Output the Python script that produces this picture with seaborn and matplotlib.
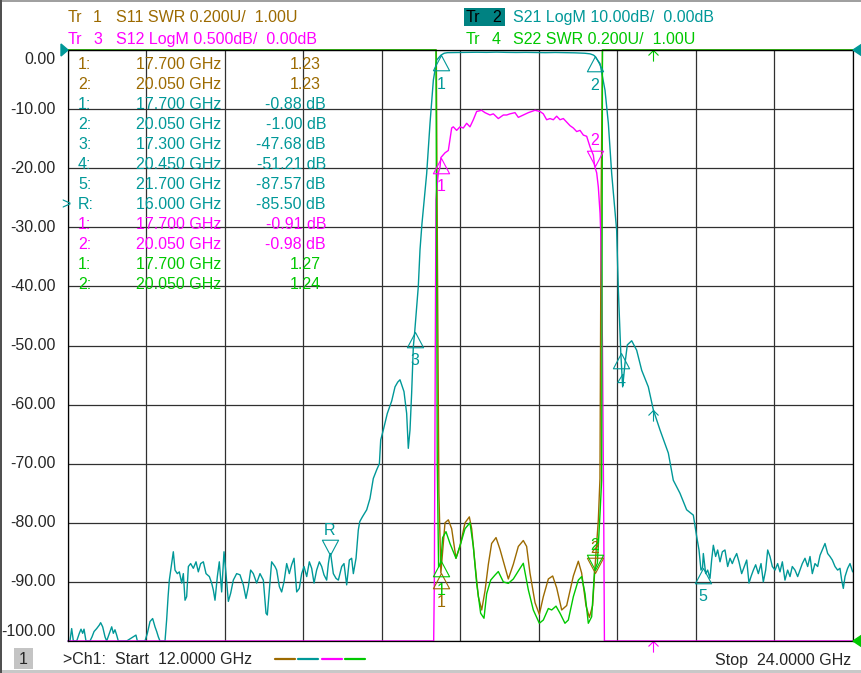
import numpy as np
import pandas as pd
import matplotlib
matplotlib.use("Agg")
import matplotlib.pyplot as plt
from matplotlib.path import Path
from matplotlib.patches import Rectangle, Polygon
import seaborn as sns

# ---- traces: (GHz, value) ----
s21_pts = [
    (12.00, -100), (12.03, -100), (12.056, -97.9), (12.082, -100), (12.133, -100), (12.173, -98.7),
    (12.199, -98.0), (12.224, -98.7), (12.245, -98.0), (12.275, -100), (12.336, -100), (12.367, -99.3),
    (12.398, -98.4), (12.438, -97.9), (12.479, -97.3), (12.499, -96.9), (12.530, -97.6), (12.566, -99.3),
    (12.591, -100), (12.642, -98.4), (12.668, -97.6), (12.693, -98.7), (12.718, -98.1), (12.744, -99.0),
    (12.769, -100), (12.897, -100), (13.039, -99.0), (13.060, -100), (13.177, -100), (13.213, -98.7),
    (13.254, -96.7), (13.294, -96.2), (13.330, -97.6), (13.356, -98.4), (13.381, -99.3), (13.406, -100),
    (13.483, -100), (13.508, -96.4), (13.530, -92.5), (13.549, -89.7), (13.585, -86.9), (13.610, -84.9),
    (13.636, -88.0), (13.671, -88.6), (13.702, -88.3), (13.738, -90.2), (13.763, -88.6), (13.789, -93.1),
    (13.814, -92.5), (13.840, -87.4), (13.875, -86.9), (13.916, -87.7), (13.957, -86.6), (13.992, -88.3),
    (14.028, -86.9), (14.069, -86.6), (14.110, -88.6), (14.161, -89.1), (14.196, -90.2), (14.222, -91.4),
    (14.247, -93.1), (14.283, -89.1), (14.313, -86.6), (14.349, -91.7), (14.385, -84.9), (14.415, -88.6),
    (14.451, -93.3), (14.487, -91.9), (14.527, -89.7), (14.578, -88.6), (14.629, -88.8), (14.680, -90.5),
    (14.721, -92.8), (14.757, -90.8), (14.792, -88.0), (14.833, -88.6), (14.884, -90.2), (14.935, -88.6),
    (14.986, -89.7), (15.027, -95.3), (15.047, -95.6), (15.078, -91.4), (15.113, -86.6), (15.164, -87.4),
    (15.190, -88.0), (15.231, -90.8), (15.266, -91.7), (15.302, -90.0), (15.343, -86.9), (15.383, -88.6),
    (15.419, -87.1), (15.455, -86.0), (15.496, -91.7), (15.536, -91.1), (15.572, -88.6), (15.608, -87.4),
    (15.649, -89.1), (15.689, -86.6), (15.725, -87.7), (15.761, -90.2), (15.801, -88.0), (15.842, -86.6),
    (15.878, -87.4), (15.913, -88.8), (15.954, -89.7), (15.980, -86.9), (16.000, -85.5), (16.015, -85.2),
    (16.056, -88.6), (16.097, -89.4), (16.133, -89.7), (16.184, -87.4), (16.219, -86.9), (16.260, -90.5),
    (16.301, -86.3), (16.336, -86.0), (16.362, -88.6), (16.403, -86.0), (16.438, -81.2), (16.46, -79.8),
    (16.50, -79.0), (16.566, -77.8), (16.616, -75.9), (16.667, -72.5), (16.72, -71.0), (16.76, -70.0),
    (16.78, -66.0), (16.82, -64.3), (16.881, -61.5), (16.948, -59.4), (16.999, -57.0), (17.04, -56.2),
    (17.075, -55.8), (17.136, -57.8), (17.177, -61.5), (17.202, -67.4), (17.228, -64.3), (17.253, -58.1),
    (17.279, -50.2), (17.30, -47.68), (17.33, -43.4), (17.355, -40.0), (17.381, -33.8), (17.41, -29.5),
    (17.457, -24.0), (17.483, -20.9), (17.534, -12.4), (17.585, -5.1), (17.636, -1.7), (17.70, -0.88),
    (17.75, -0.55), (17.80, -0.45), (17.95, -0.42), (18.10, -0.40), (18.25, -0.38), (18.40, -0.40),
    (18.55, -0.36), (18.70, -0.40), (18.85, -0.42), (19.00, -0.40), (19.15, -0.42), (19.30, -0.45),
    (19.45, -0.42), (19.60, -0.45), (19.75, -0.48), (19.90, -0.55), (19.98, -0.65), (20.031, -0.85),
    (20.05, -1.00), (20.133, -2.3), (20.209, -6.8), (20.26, -12.4), (20.311, -20.9), (20.387, -30.5),
    (20.413, -40.6), (20.45, -51.21), (20.479, -57.0), (20.515, -53.0), (20.55, -49.9), (20.617, -49.2),
    (20.693, -50.8), (20.77, -54.2), (20.871, -57.0), (20.948, -60.9), (21.05, -64.3), (21.177, -68.2),
    (21.253, -72.8), (21.355, -75.0), (21.457, -77.8), (21.559, -78.7), (21.61, -82.3), (21.646, -84.6),
    (21.676, -88.0), (21.70, -87.57), (21.712, -85.2), (21.748, -88.6), (21.778, -88.0), (21.814, -89.4),
    (21.839, -86.3), (21.865, -83.8), (21.90, -85.7), (21.931, -84.6), (21.967, -86.6), (22.003, -84.9),
    (22.043, -84.6), (22.084, -87.4), (22.12, -86.0), (22.155, -86.9), (22.186, -86.0), (22.222, -85.2),
    (22.257, -86.6), (22.298, -88.6), (22.339, -87.4), (22.375, -86.3), (22.41, -90.2), (22.441, -89.1),
    (22.477, -88.0), (22.512, -87.1), (22.553, -88.6), (22.594, -86.9), (22.629, -90.0), (22.665, -88.0),
    (22.696, -84.6), (22.731, -85.7), (22.767, -87.4), (22.808, -88.0), (22.848, -86.9), (22.884, -88.3),
    (22.92, -86.6), (22.96, -89.7), (23.001, -88.0), (23.037, -89.1), (23.072, -87.4), (23.113, -88.0),
    (23.154, -89.1), (23.19, -88.0), (23.225, -86.9), (23.266, -86.0), (23.307, -87.4), (23.343, -85.7),
    (23.378, -88.6), (23.419, -86.9), (23.46, -87.4), (23.496, -85.5), (23.531, -84.6), (23.572, -83.5),
    (23.613, -85.2), (23.648, -85.7), (23.684, -86.3), (23.725, -87.4), (23.765, -88.0), (23.801, -87.7),
    (23.827, -89.7), (23.852, -91.1), (23.878, -89.1), (23.918, -87.7), (23.954, -86.9), (23.995, -88.3),
]

s12_pts = [
    (12.0, -6.0), (17.59, -6.0), (17.60, -4.5), (17.615, -2.5), (17.625, -1.27), (17.636, -1.18),
    (17.661, -1.04), (17.687, -0.99), (17.70, -0.91), (17.763, -0.87), (17.814, -0.85), (17.865, -0.66),
    (17.89, -0.65), (17.941, -0.68), (17.992, -0.65), (18.043, -0.66), (18.094, -0.62), (18.145, -0.65),
    (18.196, -0.59), (18.247, -0.52), (18.323, -0.51), (18.374, -0.53), (18.451, -0.55), (18.502, -0.54),
    (18.578, -0.58), (18.655, -0.55), (18.706, -0.55), (18.757, -0.54), (18.833, -0.53), (18.884, -0.57),
    (18.96, -0.55), (19.037, -0.53), (19.139, -0.51), (19.215, -0.52), (19.266, -0.54), (19.317, -0.59),
    (19.368, -0.58), (19.419, -0.59), (19.47, -0.56), (19.521, -0.59), (19.572, -0.58), (19.623, -0.61),
    (19.674, -0.64), (19.725, -0.66), (19.776, -0.69), (19.827, -0.68), (19.878, -0.72), (19.929, -0.73),
    (19.98, -0.82), (20.031, -0.89), (20.05, -0.98), (20.082, -1.04), (20.107, -1.16), (20.133, -1.38),
    (20.148, -1.61), (20.17, -2.5), (20.19, -4.0), (20.20, -6.0), (24.0, -6.0),
]

s11_pts = [
    (12.0, 3.5), (17.63, 3.5), (17.65, 2.2), (17.67, 1.5), (17.70, 1.23), (17.763, 1.40), (17.814, 1.41),
    (17.865, 1.38), (17.931, 1.28), (17.992, 1.32), (18.069, 1.40), (18.135, 1.42), (18.171, 1.38),
    (18.222, 1.26), (18.273, 1.15), (18.324, 1.105), (18.375, 1.17), (18.426, 1.26), (18.476, 1.33),
    (18.543, 1.35), (18.604, 1.31), (18.68, 1.25), (18.731, 1.21), (18.808, 1.26), (18.884, 1.32),
    (18.96, 1.34), (19.011, 1.32), (19.062, 1.23), (19.139, 1.13), (19.205, 1.09), (19.266, 1.15),
    (19.343, 1.21), (19.409, 1.22), (19.47, 1.18), (19.547, 1.105), (19.623, 1.12), (19.725, 1.22),
    (19.801, 1.27), (19.852, 1.23), (19.918, 1.12), (19.97, 1.08), (20.02, 1.12), (20.05, 1.23),
    (20.107, 1.41), (20.132, 1.55), (20.15, 2.5), (20.17, 3.5), (24.0, 3.5),
]

s22_pts = [
    (12.0, 3.5), (17.625, 3.5), (17.645, 1.6), (17.665, 1.25), (17.687, 1.26), (17.70, 1.27),
    (17.727, 1.35), (17.778, 1.37), (17.839, 1.33), (17.931, 1.28), (18.003, 1.33), (18.069, 1.38),
    (18.145, 1.40), (18.196, 1.32), (18.247, 1.195), (18.308, 1.094), (18.359, 1.077), (18.40, 1.16),
    (18.461, 1.206), (18.527, 1.223), (18.578, 1.235), (18.655, 1.20), (18.731, 1.195), (18.808, 1.21),
    (18.91, 1.246), (18.96, 1.263), (19.037, 1.173), (19.113, 1.105), (19.205, 1.06), (19.266, 1.071),
    (19.343, 1.11), (19.394, 1.105), (19.46, 1.118), (19.521, 1.094), (19.597, 1.06), (19.648, 1.071),
    (19.725, 1.15), (19.801, 1.206), (19.852, 1.218), (19.903, 1.161), (19.954, 1.06), (20.005, 1.082),
    (20.05, 1.24), (20.092, 1.263), (20.133, 1.432), (20.158, 1.545), (20.17, 3.5), (24.0, 3.5),
]

# markers: (label, GHz, value, triangle direction)
s11_markers = [("1", 17.70, 1.23, "up"), ("2", 20.05, 1.23, "down")]
s21_markers = [("1", 17.70, -0.88, "up"), ("2", 20.05, -1.00, "up"), ("3", 17.30, -47.68, "up"),
               ("4", 20.45, -51.21, "up"), ("5", 21.70, -87.57, "up"), ("R", 16.00, -85.50, "down")]
s12_markers = [("1", 17.70, -0.91, "up"), ("2", 20.05, -0.98, "down")]
s22_markers = [("1", 17.70, 1.27, "up"), ("2", 20.05, 1.24, "down")]

BROWN, TEAL, MAGENTA, GREEN = "#9C6A00", "#009898", "#FF00FF", "#00C800"
W, H = 862, 673
FS = 11.5


# every trace is drawn on the Tr2 screen scale (10 dB/div, 0 dB at top)
def logm_half(v):      # 0.5 dB/div, ref 0 dB at top
    return np.asarray(v) * 20.0


def swr(v):            # 0.2 U/div, ref 1.00 U at bottom
    return -100.0 + (np.asarray(v) - 1.0) * 50.0


def ident(v):
    return np.asarray(v, dtype=float)


traces = [("S11", s11_pts, swr, BROWN), ("S21", s21_pts, ident, TEAL),
          ("S12", s12_pts, logm_half, MAGENTA), ("S22", s22_pts, swr, GREEN)]

frames = []
for name, pts, conv, _ in traces:
    f, v = zip(*pts)
    frames.append(pd.DataFrame({"freq": f, "screen": np.clip(conv(v), -100, 0), "trace": name}))
df = pd.concat(frames, ignore_index=True)

sns.set_style("white")
plt.rcParams["font.family"] = ["Liberation Sans", "DejaVu Sans"]

fig = plt.figure(figsize=(W / 100, H / 100), dpi=100)
ax = fig.add_axes([68 / W, 1 - 641 / H, 785 / W, 591 / H])


def ftext(x, y, s, **kw):
    kw.setdefault("fontsize", FS)
    fig.text(x / W, 1 - y / H, s, **kw)


ax.set_xlim(12, 24)
ax.set_ylim(-100, 0)
ax.set_xticks(np.linspace(12, 24, 11))
ax.set_yticks(np.arange(-100, 1, 10))
ax.grid(True, color="#303030", lw=0.9)
ax.set_axisbelow(True)
ax.tick_params(length=0, labelbottom=False, labelleft=False)
for sp in ax.spines.values():
    sp.set_color("black")
    sp.set_linewidth(0.9)

sns.lineplot(data=df, x="freq", y="screen", hue="trace", hue_order=["S11", "S21", "S12", "S22"],
             palette={"S11": BROWN, "S21": TEAL, "S12": MAGENTA, "S22": GREEN},
             estimator=None, sort=False, lw=1.0, legend=False, ax=ax, clip_on=False)
ax.set_xlabel("")
ax.set_ylabel("")

# marker triangles, apex on the trace
tri_up = Path([(0, 0), (-0.53, -1), (0.53, -1), (0, 0)], closed=True)
tri_dn = Path([(0, 0), (-0.53, 1), (0.53, 1), (0, 0)], closed=True)
for marks, conv, col in [(s11_markers, swr, BROWN), (s21_markers, ident, TEAL),
                         (s12_markers, logm_half, MAGENTA), (s22_markers, swr, GREEN)]:
    for lab, f, v, d in marks:
        y = float(conv(v))
        ax.plot([f], [y], marker=tri_up if d == "up" else tri_dn, ms=22, mfc="none",
                mec=col, mew=0.8, ls="none", clip_on=False)
        ax.annotate(lab, (f, y), xytext=(0, -21 if d == "up" else 18), textcoords="offset points",
                    ha="center", va="center", color=col, fontsize=FS)

# small stimulus arrows
arrow = Path([(0, 0), (0, -1), (-0.45, -0.45), (0, 0), (0.45, -0.45)],
             [Path.MOVETO, Path.LINETO, Path.MOVETO, Path.LINETO, Path.LINETO])
for f, y, col in [(20.94, 0, GREEN), (20.94, -100, MAGENTA), (20.948, -60.9, TEAL)]:
    ax.plot([f], [y], marker=arrow, ms=16, mfc="none", mec=col, mew=0.8, ls="none", clip_on=False)

# y scale labels
for val in range(0, -101, -10):
    yy = 50 + (-val) * 5.91
    if val == 0:
        yy += 9
    elif val == -100:
        yy -= 10
    ftext(56, yy, f"{val:.2f}", ha="right", va="center")

# reference-level arrows at the frame edges
for pts, col in [([(61, 44), (61, 56), (68, 50)], TEAL), ([(862, 44), (862, 56), (853, 50)], TEAL),
                 ([(862, 635), (862, 647), (853, 641)], GREEN)]:
    fig.patches.append(Polygon([(x / W, 1 - y / H) for x, y in pts], closed=True, fc=col, ec=col,
                               transform=fig.transFigure, figure=fig))

# trace headers
ftext(68, 22, "Tr", color=BROWN, va="baseline")
ftext(93, 22, "1", color=BROWN, va="baseline")
ftext(116, 22, "S11 SWR 0.200U/  1.00U", color=BROWN, va="baseline")
ftext(68, 44, "Tr", color=MAGENTA, va="baseline")
ftext(93, 44, "3", color=MAGENTA, va="baseline")
ftext(116, 44, "S12 LogM 0.500dB/  0.00dB", color=MAGENTA, va="baseline")
fig.patches.append(Rectangle((464 / W, 1 - 26 / H), 41 / W, 18 / H, fc="#008282", ec="none",
                             transform=fig.transFigure, figure=fig))
ftext(466, 22, "Tr", color="black", va="baseline")
ftext(492, 22, "2", color="black", va="baseline")
ftext(513, 22, "S21 LogM 10.00dB/  0.00dB", color=TEAL, va="baseline")
ftext(466, 44, "Tr", color=GREEN, va="baseline")
ftext(492, 44, "4", color=GREEN, va="baseline")
ftext(513, 44, "S22 SWR 0.200U/  1.00U", color=GREEN, va="baseline")

# marker readout table
rows = []
rows += [(lab, f, f"{v:.2f}", BROWN, 321) for lab, f, v, _ in s11_markers]
rows += [(lab, f, f"{v:.2f} dB", TEAL, 326) for lab, f, v, _ in s21_markers]
rows += [(lab, f, f"{v:.2f} dB", MAGENTA, 326) for lab, f, v, _ in s12_markers]
rows += [(lab, f, f"{v:.2f}", GREEN, 321) for lab, f, v, _ in s22_markers]
for i, (lab, f, val, col, xr) in enumerate(rows):
    yb = 69 + 20 * i
    if lab == "R":
        ftext(61, yb, ">", color=col, va="baseline")
    ftext(78, yb, lab + ":", color=col, va="baseline")
    ftext(221, yb, f"{f:.3f} GHz", color=col, va="baseline", ha="right")
    ftext(xr, yb, val, color=col, va="baseline", ha="right")

# channel status bar
fig.patches.append(Rectangle((14 / W, 1 - 669 / H), 19 / W, 21 / H, fc="#C4C4C4", ec="none",
                             transform=fig.transFigure, figure=fig))
ftext(23.5, 659, "1", ha="center", va="center")
ftext(63, 660, ">Ch1:  Start  12.0000 GHz", va="center")
for x0, col in [(275, BROWN), (298, TEAL), (322, MAGENTA), (345, GREEN)]:
    fig.add_artist(plt.Line2D([x0 / W, (x0 + 20) / W], [1 - 659 / H] * 2, color=col, lw=1.6,
                              transform=fig.transFigure))
ftext(851, 660, "Stop  24.0000 GHz", ha="right", va="center")

# screen frame
fig.patches.append(Rectangle((0, 1 - 2 / H), 1, 2 / H, fc="#A0A0A0", ec="none",
                             transform=fig.transFigure, figure=fig))
fig.patches.append(Rectangle((0, 0), 1, 3 / H, fc="#C8C8C8", ec="none",
                             transform=fig.transFigure, figure=fig))
fig.patches.append(Rectangle((0, 0), 2 / W, 1, fc="#505050", ec="none",
                             transform=fig.transFigure, figure=fig))

fig.savefig("out.png", dpi=100, facecolor="white")
